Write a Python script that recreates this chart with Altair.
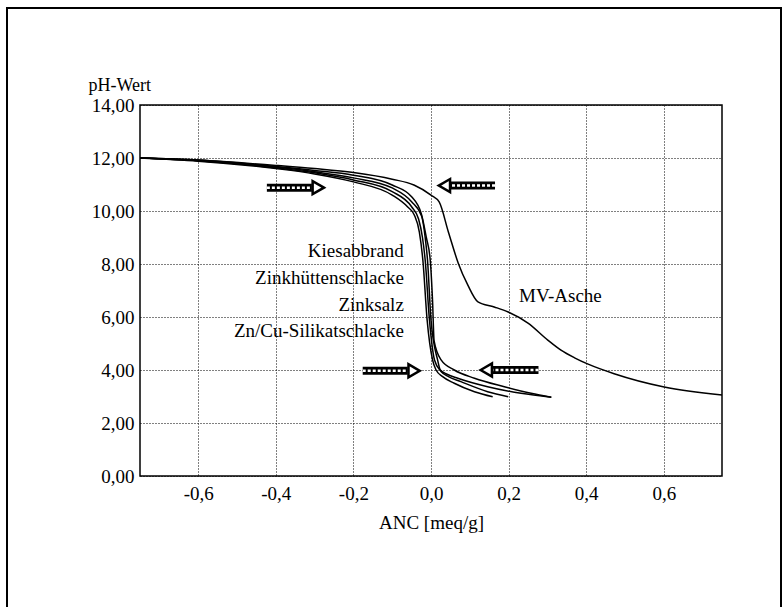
import altair as alt
import pandas as pd

# ---- data ----
x_silikat = [-0.75, -0.6, -0.4, -0.3, -0.2, -0.1, -0.06, -0.043, -0.03, -0.021, -0.01, 0.004, 0.013, 0.03, 0.06, 0.112, 0.159]
y_silikat = [12.0, 11.88, 11.6, 11.4, 11.1, 10.6, 10.15, 9.85, 9.2, 8.15, 5.89, 4.38, 4.0, 3.75, 3.5, 3.18, 2.99]

x_zinksalz = [-0.75, -0.6, -0.4, -0.3, -0.2, -0.1, -0.05, -0.032, -0.022, -0.015, -0.004, 0.009, 0.026, 0.045, 0.077, 0.146, 0.199]
y_zinksalz = [12.0, 11.9, 11.63, 11.44, 11.17, 10.73, 10.16, 9.7, 9.0, 8.15, 5.89, 4.38, 3.94, 3.75, 3.56, 3.18, 2.99]

x_zinkhuette = [-0.75, -0.6, -0.4, -0.3, -0.2, -0.1, -0.05, -0.024, -0.015, -0.009, 0.0, 0.017, 0.024, 0.04, 0.069, 0.146, 0.232, 0.31]
y_zinkhuette = [12.0, 11.9, 11.66, 11.48, 11.25, 10.87, 10.35, 9.8, 9.0, 8.15, 5.89, 4.38, 4.0, 3.85, 3.69, 3.37, 3.12, 2.97]

x_kies = [-0.75, -0.6, -0.4, -0.3, -0.2, -0.1, -0.05, -0.025, -0.012, -0.002, 0.004, 0.008, 0.026, 0.06, 0.112, 0.189, 0.258, 0.31]
y_kies = [12.0, 11.92, 11.68, 11.53, 11.35, 10.98, 10.54, 9.9, 9.0, 8.15, 6.6, 5.1, 4.38, 4.0, 3.69, 3.37, 3.12, 2.97]

x_mv = [-0.75, -0.6, -0.4, -0.3, -0.2, -0.1, -0.044, 0.0, 0.021, 0.045, 0.07, 0.095, 0.121, 0.163, 0.199, 0.25, 0.301, 0.335, 0.37, 0.405, 0.472, 0.601, 0.75]
y_mv = [12.0, 11.92, 11.72, 11.6, 11.45, 11.2, 10.98, 10.6, 10.34, 9.2, 8.04, 7.2, 6.57, 6.38, 6.19, 5.77, 5.13, 4.75, 4.46, 4.22, 3.86, 3.36, 3.06]

label_text = ["Kiesabbrand", "Zinkhüttenschlacke", "Zinksalz", "Zn/Cu-Silikatschlacke", "MV-Asche"]
label_x = [-0.07, -0.07, -0.07, -0.07, 0.227]
label_y = [8.49, 7.47, 6.45, 5.47, 6.79]
label_align = ["right", "right", "right", "right", "left"]

arrow_tail = [-0.423, 0.165, -0.176, 0.277]
arrow_tip = [-0.277, 0.021, -0.030, 0.129]
arrow_y = [10.88, 10.96, 3.97, 4.0]

x_ticks = [-0.6, -0.4, -0.2, 0.0, 0.2, 0.4, 0.6]
y_ticks = [0, 2, 4, 6, 8, 10, 12, 14]

# ---- tables ----
series = [
    ("Zn/Cu-Silikatschlacke", x_silikat, y_silikat),
    ("Zinksalz", x_zinksalz, y_zinksalz),
    ("Zinkhüttenschlacke", x_zinkhuette, y_zinkhuette),
    ("Kiesabbrand", x_kies, y_kies),
    ("MV-Asche", x_mv, y_mv),
]
rows = []
for name, xs, ys in series:
    for i, (xv, yv) in enumerate(zip(xs, ys)):
        rows.append({"serie": name, "i": i, "x": xv, "y": yv})
curves_df = pd.DataFrame(rows)

labels_df = pd.DataFrame({"text": label_text, "x": label_x, "y": label_y, "align": label_align})

head_len = 0.03
arrows_df = pd.DataFrame({"tail": arrow_tail, "tip": arrow_tip, "y": arrow_y})
arrows_df["dir"] = [1 if t > s else -1 for s, t in zip(arrows_df["tail"], arrows_df["tip"])]
arrows_df["shaft_end"] = arrows_df["tip"] - arrows_df["dir"] * head_len
arrows_df["head_x"] = arrows_df["tip"] - arrows_df["dir"] * head_len * 0.45
arrows_df["shape"] = ["triangle-right" if d > 0 else "triangle-left" for d in arrows_df["dir"]]

FONT = "Liberation Serif"
W, H = 582, 371
LEFT, TOP = 140, 105

xscale = alt.Scale(domain=[-0.75, 0.75], nice=False, zero=False)
yscale = alt.Scale(domain=[0, 14], nice=False, zero=False)

x_enc = alt.X("x:Q", scale=xscale, axis=alt.Axis(
    values=x_ticks, title="ANC [meq/g]",
    labelExpr="replace(replace(format(datum.value, '.1f'), '.', ','), '\u2212', '-')",
    grid=True, gridColor="black", gridDash=[1, 2], gridWidth=1, gridOpacity=1,
    ticks=False, domain=False, labelFont=FONT, labelFontSize=19, labelColor="black",
    labelPadding=8, titleFont=FONT, titleFontSize=19, titleFontWeight="normal",
    titleColor="black", titlePadding=10, labelFlush=False))
y_enc = alt.Y("y:Q", scale=yscale, axis=alt.Axis(
    values=y_ticks, title="pH-Wert",
    labelExpr="replace(format(datum.value, '.2f'), '.', ',')",
    grid=True, gridColor="black", gridDash=[1, 2], gridWidth=1, gridOpacity=1,
    ticks=False, domain=False, labelFont=FONT, labelFontSize=19, labelColor="black",
    labelPadding=6, titleFont=FONT, titleFontSize=18, titleFontWeight="normal",
    titleColor="black", titleAngle=0, titleAlign="left", titleBaseline="alphabetic",
    titleX=-52, titleY=-15, labelFlush=False))

frame = alt.Chart(pd.DataFrame({"k": [0]})).mark_rect(
    fill=None, stroke="black", strokeWidth=2, clip=False
).encode(
    x=alt.value(7 - LEFT), x2=alt.value(781 - LEFT),
    y=alt.value(8 - TOP), y2=alt.value(640 - TOP),
)

curves = alt.Chart(curves_df).mark_line(
    interpolate="monotone", strokeWidth=1.5, color="black"
).encode(
    x=x_enc, y=y_enc, detail="serie:N", order="i:Q"
)

labels_r = alt.Chart(labels_df[labels_df["align"] == "right"]).mark_text(
    align="right", baseline="middle", font=FONT, fontSize=19, color="black"
).encode(x="x:Q", y="y:Q", text="text:N")
labels_l = alt.Chart(labels_df[labels_df["align"] == "left"]).mark_text(
    align="left", baseline="middle", font=FONT, fontSize=19, color="black"
).encode(x="x:Q", y="y:Q", text="text:N")

shaft_outer = alt.Chart(arrows_df).mark_rule(strokeWidth=8, color="black", strokeCap="butt").encode(
    x="tail:Q", x2="shaft_end:Q", y="y:Q")
shaft_inner = alt.Chart(arrows_df).mark_rule(strokeWidth=2.5, color="white", strokeDash=[3, 2], strokeCap="butt").encode(
    x="tail:Q", x2="shaft_end:Q", y="y:Q")
heads = alt.Chart(arrows_df).mark_point(filled=True, fill="white", stroke="black", strokeWidth=2.5, size=170, opacity=1).encode(
    x="head_x:Q", y="y:Q", shape=alt.Shape("shape:N", scale=None))

chart = alt.layer(frame, curves, labels_r, labels_l, shaft_outer, shaft_inner, heads).properties(
    width=W, height=H,
    autosize=alt.AutoSizeParams(type="none"),
    padding={"left": LEFT, "top": TOP, "right": 782 - LEFT - W, "bottom": 607 - TOP - H},
    background="white",
).configure_view(stroke="black", strokeWidth=1.5)

chart.save("out.html", embed_options={"renderer": "svg", "actions": False})
